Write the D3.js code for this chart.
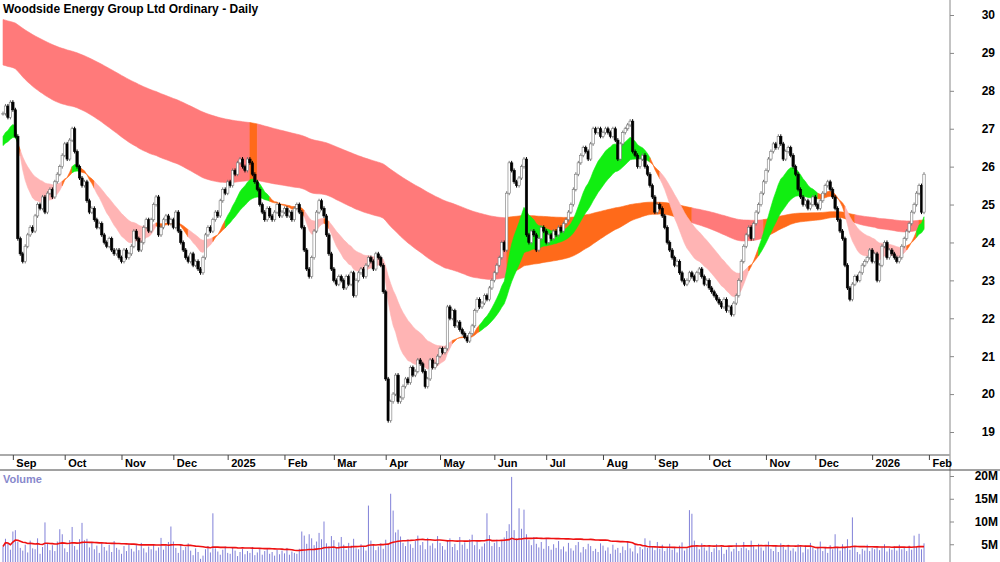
<!DOCTYPE html>
<html>
<head>
<meta charset="utf-8">
<script src="https://cdn.jsdelivr.net/npm/d3@7"></script>
<style>
body { margin: 0; background: #fff; }
text { font-family: "Liberation Sans", Arial, sans-serif; }
</style>
</head>
<body>
<div id="chart"></div>
<script>
// daily closes, 26 Aug 2024 .. 30 Jan 2026
var closes = [
  27.4,27.6,27.3,27.7,27.5, 26.8,24.1,
  23.7,23.5,23.9,24.2,24.4,24.3,24.7,25.0,24.9,25.2,24.8,25.3,25.4,25.2,25.6,25.8,26.0,26.3,26.6,26.2,26.7,27.0,26.4,
  26.0,25.7,25.5,25.6,25.1,24.8,24.9,24.6,24.4,24.5,24.2,24.0,23.9,24.1,23.8,23.7,23.8,23.6,23.5,23.8,23.6,23.7,
  23.9,24.3,24.1,23.8,24.0,24.4,24.6,24.3,24.6,25.0,25.2,24.2,24.4,24.6,24.7,24.5,24.6,24.4,24.8,24.3,24.0,23.8,23.6,23.5,23.7,23.4,23.5,23.3,
  23.2,23.6,24.2,24.4,24.3,24.6,24.8,24.7,25.1,25.4,25.3,25.6,25.5,25.9,25.8,26.1,26.2,26.0,25.9,26.2,26.1,
  25.8,25.6,25.4,25.0,24.8,24.6,24.9,24.7,24.6,24.8,25.0,24.7,24.8,24.9,24.7,24.8,24.6,24.9,25.0,24.8,
  24.4,23.8,23.3,23.1,23.6,24.3,24.8,25.1,24.9,24.7,24.2,23.7,23.3,23.0,22.9,23.1,
  23.0,22.8,23.1,22.9,23.2,22.6,23.0,23.2,23.3,23.1,23.4,23.6,23.5,23.3,23.7,23.6,23.4,22.7,
  20.4,19.3,19.8,20.0,20.5,19.8,19.9,20.2,20.4,20.3,20.7,20.5,20.6,20.9,20.8,20.6,20.2,20.4,20.9,20.7,20.8,21.0,21.2,21.1,21.2,
  22.3,22.0,22.2,21.8,21.9,21.7,21.6,21.5,21.4,21.6,21.8,22.2,22.5,22.3,22.4,22.6,22.5,22.8,23.0,23.2,23.4,23.6,24.0,23.8,
  25.3,26.1,25.9,25.6,25.5,25.7,26.0,26.2,
  24.2,24.0,24.3,24.2,23.8,24.1,24.4,24.3,24.0,24.2,24.1,24.3,24.2,24.4,24.3,24.5,24.6,24.8,
  25.0,25.4,25.8,26.1,26.3,26.5,26.4,26.2,26.6,27.0,26.9,27.0,26.8,26.9,27.0,26.9,26.8,27.0,26.7,26.2,26.6,26.9,27.0,27.1,27.2,26.4,26.3,26.0,26.2,
  26.3,26.0,25.8,25.5,25.2,24.8,25.0,24.9,24.7,24.4,24.0,23.8,23.6,23.4,23.5,23.2,23.0,22.9,23.0,23.2,
  23.1,23.0,23.2,23.3,23.1,22.9,23.0,22.8,22.7,22.6,22.5,22.4,22.3,22.5,22.2,22.3,22.1,22.4,22.6,23.0,23.5,
  23.9,24.2,24.4,24.1,24.5,24.8,25.0,25.3,25.6,25.9,26.2,26.4,26.6,26.5,26.8,26.6,
  26.2,26.4,26.5,26.3,26.0,25.8,25.4,25.2,25.0,25.1,24.9,25.0,25.2,25.0,24.9,25.1,25.3,25.5,25.6,25.4,
  25.2,24.9,24.6,24.3,24.1,23.4,22.8,22.5,22.9,23.1,23.0,23.2,
  23.4,23.5,23.6,23.8,23.5,23.7,23.0,23.4,23.9,24.0,23.6,23.8,23.7,23.6,23.5,23.6,23.9,24.1,24.3,24.5,24.8,25.0,25.3,25.5,24.8,25.8
];

// daily volume, millions
var volumes = [
  4.5,6.2,5.1,3.8,7.8,8.1,5.5,4.2,3.6,4.9,3.2,5.8,4.1,3.9,6.3,2.9,4.4,9.8,5.2,3.7,
  4.8,3.5,5.6,8.3,7.2,4.1,3.3,5.9,8.8,4.6,3.8,6.1,9.7,5.9,6.2,4.3,5.4,3.9,4.7,3.1,
  5.2,4.4,3.6,4.9,3.3,5.7,4.2,3.8,2.9,4.6,3.5,5.1,4.0,3.4,4.8,3.7,5.3,4.1,3.2,4.5,
  3.9,5.0,3.6,4.3,6.4,3.8,4.7,5.5,8.9,5.6,4.2,3.1,4.9,3.7,4.4,5.2,3.6,2.6,4.1,3.3,
  1.8,2.5,3.9,4.6,3.2,11.8,4.1,3.4,2.7,3.8,4.5,3.1,2.9,4.2,3.6,2.4,3.3,4.0,2.8,3.5,
  3.1,4.4,2.6,3.2,3.9,2.7,3.5,4.1,2.9,3.3,2.5,3.8,2.8,3.6,3.0,4.2,2.7,3.4,3.1,2.9,
  4.0,7.8,6.9,5.1,7.2,6.3,4.8,5.6,7.5,6.1,10.0,5.2,4.6,6.8,5.9,4.3,5.4,6.6,4.9,3.8,
  5.3,4.7,6.2,4.1,3.9,5.0,4.4,3.6,13.5,5.8,4.9,3.7,4.5,5.2,4.0,6.0,5.1,16.1,12.4,7.6,
  8.2,6.7,5.3,4.6,6.1,5.0,4.2,5.7,6.9,4.8,5.5,3.9,6.4,4.7,5.2,4.1,6.8,5.3,4.6,3.8,
  5.9,6.3,4.4,5.1,3.7,6.6,4.9,5.4,4.0,6.1,7.1,4.8,5.6,3.9,4.5,5.2,11.8,7.0,4.6,5.3,
  6.0,4.4,5.7,6.5,7.9,9.4,19.8,8.1,6.3,12.9,8.4,12.6,7.2,5.9,4.8,6.6,5.1,4.3,5.5,4.0,
  6.2,4.6,3.8,5.0,4.2,5.7,3.9,4.5,3.4,5.3,4.1,3.6,4.8,5.5,3.2,4.4,3.9,5.1,4.6,3.5,
  4.0,3.3,5.2,4.7,3.6,4.3,2.9,4.9,3.8,4.2,3.1,4.5,3.7,5.6,4.1,3.4,4.8,3.0,4.4,3.9,
  6.3,4.2,5.8,4.6,3.7,5.5,4.0,4.9,3.5,4.3,5.1,3.8,4.4,3.2,4.7,5.4,3.6,4.1,12.5,11.7,
  5.8,4.5,3.9,5.2,4.3,3.6,4.8,3.3,4.1,5.0,3.7,4.4,2.9,3.8,4.6,3.4,4.0,5.3,3.5,4.2,
  5.5,4.1,3.7,5.8,4.6,3.9,5.1,4.3,3.6,4.8,5.6,4.0,3.5,4.7,3.3,5.2,4.4,3.8,4.9,3.6,
  4.1,3.4,5.0,4.5,3.2,4.7,3.9,5.3,4.2,3.7,4.4,5.6,3.5,4.3,3.1,4.8,3.9,7.2,4.4,3.6,
  5.0,4.2,6.1,3.8,10.9,4.5,3.3,2.8,4.0,3.6,4.9,3.5,4.2,3.9,4.6,3.7,4.3,5.0,3.4,4.1,
  3.8,4.5,3.6,4.9,3.9,4.2,3.5,4.7,3.8,6.9,4.4,7.3,3.9,5.2
];

var firstDay = new Date(2024, 7, 26);
var priceTicks = [19, 20, 21, 22, 23, 24, 25, 26, 27, 28, 29, 30];
var volTicks = [5, 10, 15, 20];
var shortPeriods = [14, 32], longPeriods = [130, 260];
var shortSeed = [26.7, 26.5], longSeed = [28.7, 29.9];

var W = 1000, H = 562, axisX = 950;
var svg = d3.select("#chart").append("svg").attr("width", W).attr("height", H);

// trading days (weekdays)
var dates = [];
var d = new Date(firstDay);
while (dates.length < closes.length) {
  if (d.getDay() != 0 && d.getDay() != 6) dates.push(new Date(d));
  d.setDate(d.getDate() + 1);
}

var x = d3.scaleLinear().domain([0, closes.length - 1]).range([3, 924]);
var y = d3.scaleLinear().domain([19, 30]).range([432, 15]);
var yv = d3.scaleLinear().domain([0, 20]).range([567, 476]);

function ema(data, n, seed) {
  var k = 2 / (n + 1), prev = seed, out = [];
  data.forEach(function (c) { prev = prev + k * (c - prev); out.push(prev); });
  return out;
}
var sf = ema(closes, shortPeriods[0], shortSeed[0]);
var ss = ema(closes, shortPeriods[1], shortSeed[1]);
var lf = ema(closes, longPeriods[0], longSeed[0]);
var ls = ema(closes, longPeriods[1], longSeed[1]);

function drawBand(a, b, colorOf) {
  var runs = [], cur = null;
  a.forEach(function (v, i) {
    var c = colorOf(i);
    if (!cur || cur.color != c) {
      if (cur) cur.idx.push(i);
      cur = { color: c, idx: [] };
      runs.push(cur);
    }
    cur.idx.push(i);
  });
  var area = d3.area().x(function (i) { return x(i); })
    .y0(function (i) { return y(a[i]); }).y1(function (i) { return y(b[i]); });
  svg.selectAll(null).data(runs).enter().append("path")
    .attr("d", function (r) { return area(r.idx); })
    .attr("fill", function (r) { return r.color; })
    .attr("stroke", function (r) { return r.color; }).attr("stroke-width", 0.6);
}

// long band turns orange while the short group sits above its lower edge
drawBand(lf, ls, function (i) {
  return Math.max(sf[i], ss[i]) > Math.min(lf[i], ls[i]) ? "#ff6a1a" : "#ff7a7a";
});
drawBand(sf, ss, function (i) {
  var diff = sf[i] - ss[i];
  if (Math.abs(diff) < 0.15) return "#ff6a1a";
  return diff > 0 ? "#11ee11" : "#ffb4b4";
});

// candles
function open(i) { return i ? closes[i - 1] : closes[i]; }
function up(c, i) { return c >= open(i); }
var candles = svg.append("g").selectAll("g").data(closes).enter().append("g");
candles.append("line")
  .attr("x1", function (c, i) { return x(i); }).attr("x2", function (c, i) { return x(i); })
  .attr("y1", function (c, i) { return Math.min(y(c), y(open(i))) - 2; })
  .attr("y2", function (c, i) { return Math.max(y(c), y(open(i))) + 2; })
  .attr("stroke", function (c, i) { return up(c, i) ? "#777" : "#000"; });
candles.append("rect")
  .attr("x", function (c, i) { return x(i) - 1.2; }).attr("width", 2.4)
  .attr("y", function (c, i) { return Math.min(y(c), y(open(i))); })
  .attr("height", function (c, i) { return Math.max(1, Math.abs(y(c) - y(open(i)))); })
  .attr("fill", function (c, i) { return up(c, i) ? "#fff" : "#000"; })
  .attr("stroke", function (c, i) { return up(c, i) ? "#777" : "#000"; })
  .attr("stroke-width", 0.6);

// volume
svg.append("g").selectAll("line").data(volumes).enter().append("line")
  .attr("x1", function (v, i) { return x(i); }).attr("x2", function (v, i) { return x(i); })
  .attr("y1", yv(0)).attr("y2", function (v) { return yv(v); })
  .attr("stroke", "#8080d8").attr("stroke-width", 1);
var vma = volumes.map(function (v, i) {
  return d3.mean(volumes.slice(Math.max(0, i - 49), i + 1));
});
svg.append("path").datum(vma)
  .attr("d", d3.line().x(function (v, i) { return x(i); }).y(function (v) { return yv(v); }))
  .attr("fill", "none").attr("stroke", "#ee1111").attr("stroke-width", 1.6);

// axes
svg.append("line").attr("x1", axisX).attr("x2", axisX).attr("y1", 0).attr("y2", H).attr("stroke", "#888");
svg.append("line").attr("x1", 0).attr("x2", axisX).attr("y1", 455).attr("y2", 455).attr("stroke", "#aaa").attr("stroke-width", 2);
svg.append("line").attr("x1", 0).attr("x2", W).attr("y1", 470).attr("y2", 470).attr("stroke", "#444");

var yAxis = d3.axisRight(y).tickValues(priceTicks).tickSize(4).tickFormat(d3.format("d"));
var ga = svg.append("g").attr("transform", "translate(" + axisX + ",0)").call(yAxis);
ga.select(".domain").remove();
ga.selectAll("text").attr("x", 45).attr("text-anchor", "end").style("font-size", "12px").style("font-weight", "bold");
ga.selectAll("line").attr("stroke", "#888");

var vAxis = d3.axisRight(yv).tickValues(volTicks).tickSize(4).tickFormat(function (v) { return v + "M"; });
var gv = svg.append("g").attr("transform", "translate(" + axisX + ",0)").call(vAxis);
gv.select(".domain").remove();
gv.selectAll("text").attr("x", 48).attr("text-anchor", "end").style("font-size", "12px").style("font-weight", "bold");
gv.selectAll("line").attr("stroke", "#888");

// month ticks at first trading day of each month
var monthIdx = [];
dates.forEach(function (dt, i) {
  if (i > 0 && dt.getMonth() != dates[i - 1].getMonth()) monthIdx.push(i);
});
monthIdx.push(closes.length + 2);
var fmtM = d3.timeFormat("%b");
svg.append("g").selectAll("line").data(monthIdx).enter().append("line")
  .attr("x1", function (i) { return x(i) - 2; }).attr("x2", function (i) { return x(i) - 2; })
  .attr("y1", 455).attr("y2", 460).attr("stroke", "#444");
svg.append("g").selectAll("text").data(monthIdx).enter().append("text")
  .attr("x", function (i) { return x(i) + 1; }).attr("y", 467)
  .style("font-size", "11px").style("font-weight", "bold")
  .text(function (i) {
    var dt = i < dates.length ? dates[i] : new Date(2026, 1, 2);
    return dt.getMonth() == 0 ? dt.getFullYear() : fmtM(dt);
  });

svg.append("text").attr("x", 3).attr("y", 13).style("font-size", "12px").style("font-weight", "bold")
  .text("Woodside Energy Group Ltd Ordinary - Daily");
svg.append("text").attr("x", 3).attr("y", 483).style("font-size", "11px").style("font-weight", "bold")
  .attr("fill", "#8888cc").text("Volume");
</script>
</body>
</html>
